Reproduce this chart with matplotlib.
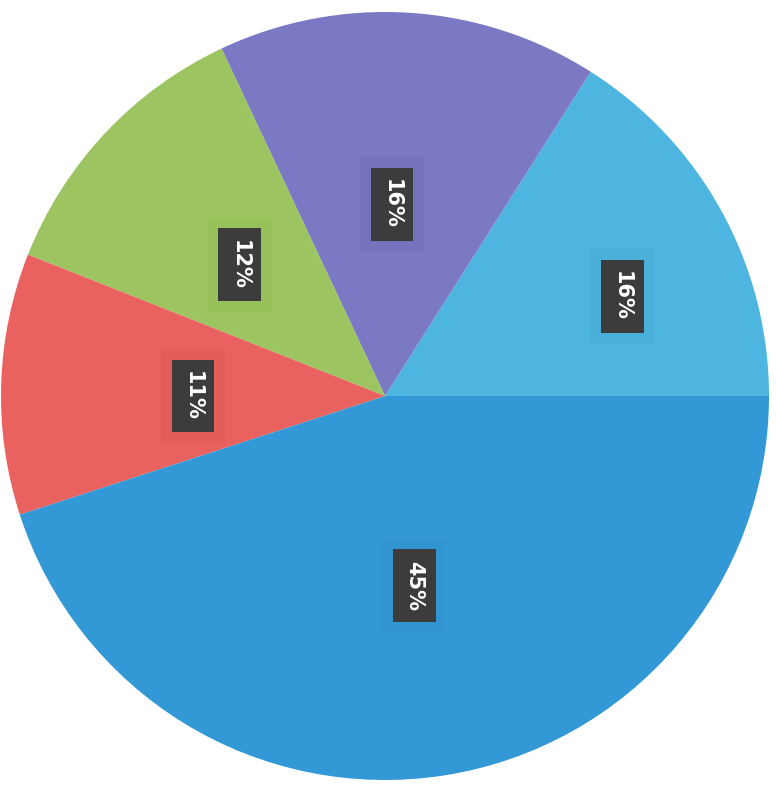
import numpy as np
import matplotlib.pyplot as plt

# share of each slice, counter-clockwise from 3 o'clock
shares = [16, 16, 12, 11, 45]
labels = ['16%', '16%', '12%', '11%', '45%']
colors = ['#4db5e0', '#7b79c3', '#9cc460', '#e9625f', '#3399d6']
halo = ['#48acd6', '#736fba', '#94bf58', '#df5b57', '#3092cd']
label_r = [0.67, 0.5, 0.51, 0.5, 0.5]
label_shift = [-6, 1.5, 1, 1.8, -0.3]   # degrees off the slice middle

fig = plt.figure(figsize=(7.76, 7.86), dpi=100)
fig.patch.set_facecolor('white')
ax = fig.add_axes([1 / 776, 6 / 786, 768 / 776, 768 / 786])

wedges, _ = ax.pie(shares, colors=colors, startangle=0, counterclock=True,
                   radius=1, wedgeprops=dict(linewidth=0))

for w, lab, r, sh, hc in zip(wedges, labels, label_r, label_shift, halo):
    ang = np.deg2rad((w.theta1 + w.theta2) / 2 + sh)
    x, y = r * np.cos(ang), r * np.sin(ang)
    # soft glow behind the tag
    ax.text(x, y, lab, rotation=-90, ha='center', va='center',
            fontsize=15, color='none', family='DejaVu Sans', weight='bold',
            bbox=dict(boxstyle='square,pad=1.05', fc=hc, ec='none', alpha=0.55))
    ax.text(x, y, lab, rotation=-90, ha='center', va='center',
            fontsize=15, color='white', family='DejaVu Sans', weight='bold',
            bbox=dict(boxstyle='square,pad=0.55', fc='#3c3c3c', ec='none'))

ax.set_xlim(-1, 1)
ax.set_ylim(-1, 1)
ax.set_aspect('equal')
ax.axis('off')

fig.savefig('out.png', dpi=100, facecolor='white')
